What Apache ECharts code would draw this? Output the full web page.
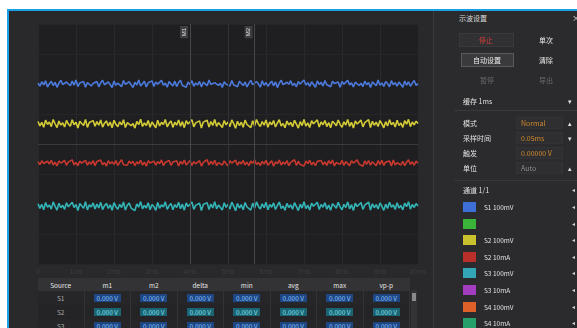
<!DOCTYPE html>
<html>
<head>
<meta charset="utf-8">
<script src="https://cdn.jsdelivr.net/npm/echarts@6/dist/echarts.min.js"></script>
<style>
  html, body { margin: 0; padding: 0; width: 577px; height: 328px; overflow: hidden; background: #ffffff;
    font-family: "Noto Sans CJK SC", "Noto Sans", sans-serif; }
  #frame { position: absolute; left: 7px; top: 9px; width: 570px; height: 319px; box-sizing: border-box;
    background: #29292b; border-left: 2px solid #18a0e8; border-top: 2px solid #18a0e8; }
  #chart { position: absolute; left: 0; top: 0; width: 577px; height: 328px; }
  #panel { position: absolute; left: 433px; top: 11px; width: 144px; height: 317px; background: #2b2b2d;
    border-left: 1px solid #3a3a3c; }
  #panel .t { position: absolute; white-space: nowrap; font-size: 7px; color: #d8d8d8; line-height: 1; transform: translateY(-50%); }
  .btn { position: absolute; box-sizing: border-box; border: 1px solid #3c3c3e; background: #303032; }
  .sep { position: absolute; left: 20px; right: 0; height: 1px; background: #38383a; }
  .sw { position: absolute; width: 13px; height: 10px; }
  #table { position: absolute; left: 38px; top: 278px; width: 372px; }
  #table .row { position: absolute; left: 0; width: 372px; height: 14px; }
  #table .cell { position: absolute; top: 0; width: 46.5px; height: 14px; font-size: 6.5px; color: #d0d0d0;
    display: flex; align-items: center; justify-content: center; border-right: 1px solid #333335; box-sizing: border-box; }
  #table .val { padding: 1px 3px; line-height: 1; }
  #scroll { position: absolute; left: 411px; top: 290px; width: 6px; height: 38px; background: #333335; }
  #scroll div { position: absolute; left: 1px; top: 3px; width: 4px; height: 8px; background: #8a8a8c; }
</style>
</head>
<body>
<div id="frame"></div>
<div id="chart"></div>
<div id="table"></div>
<div id="scroll"><div></div></div>
<div id="panel"></div>
<script>
// Captured channel traces (volts, each channel offset on screen)
const traceS1 = [
  12.08,11.86,12.15,11.94,12.21,11.80,12.02,12.18,11.90,12.11,
  11.78,12.05,12.24,11.97,11.84,12.13,12.00,11.88,12.19,11.93,
  12.26,11.83,12.07,11.96,12.16,11.79,12.10,12.22,11.87,12.03,
  11.92,12.17,11.81,12.09,12.25,11.95,11.85,12.14,12.01,11.77,
  12.20,11.91,12.06,12.12,11.82,12.23,11.98,11.89,12.15,12.04,
  11.76,12.11,11.94,12.27,11.86,12.02,12.18,11.80,12.08,11.95,
  12.21,11.84,12.13,11.99,11.88,12.24,11.92,12.06,11.79,12.16,
  12.03,11.87,12.19,11.83,12.10,12.25,11.90,12.00,11.78,12.14,
  11.96,12.22,11.85,12.07,11.93,12.17,11.81,12.12,12.04,11.89,
  12.26,11.97,11.84,12.09,12.20,11.91,12.05,11.77,12.15,11.99,
  12.11,11.86,12.23,11.94,12.02,11.82,12.18,12.08,11.90,12.13,
  11.80,12.06,12.24,11.95,11.87,12.16,12.01,11.79,12.21,11.92,
  12.10,11.85,12.03,12.19,11.88,12.14,11.76,12.07,12.25,11.96,
  11.83,12.12,11.98,12.22,11.90,12.05,11.81,12.17,12.00,11.89,
  12.27,11.93,12.09,11.84,12.15,12.02,11.78,12.20,11.97,12.11,
  11.86,12.23,11.95,12.06,11.82,12.18,12.04,11.91,12.13,11.79,
  12.16,11.99,11.87,12.24,11.94,12.08,11.80,12.12,12.21,11.90,
  12.05,11.83,12.19,11.96,12.10,11.77,12.14,12.01,11.88,12.26,
  11.92,12.07,11.84,12.17,12.03,11.81,12.22,11.95,12.09,11.86,
  12.13,12.00,11.79,12.20,11.93,12.15,11.85,12.06,12.23,11.91,
  12.02
];
const traceS2 = [
  9.50,9.21,9.44,9.12,9.59,9.30,9.47,9.16,9.63,9.35,
  9.09,9.53,9.26,9.41,9.14,9.57,9.33,9.19,9.61,9.28,
  9.45,9.07,9.52,9.37,9.23,9.64,9.11,9.43,9.31,9.56,
  9.18,9.49,9.25,9.60,9.13,9.39,9.54,9.20,9.46,9.08,
  9.58,9.32,9.15,9.48,9.27,9.62,9.10,9.42,9.55,9.22,
  9.36,9.06,9.51,9.29,9.65,9.17,9.40,9.24,9.57,9.12,
  9.47,9.34,9.08,9.59,9.20,9.44,9.30,9.63,9.15,9.38,
  9.53,9.11,9.45,9.26,9.60,9.19,9.49,9.09,9.56,9.33,
  9.22,9.62,9.14,9.41,9.28,9.54,9.07,9.46,9.35,9.58,
  9.13,9.50,9.24,9.64,9.18,9.43,9.31,9.10,9.57,9.27,
  9.48,9.16,9.61,9.36,9.05,9.52,9.23,9.45,9.12,9.59,
  9.30,9.42,9.09,9.55,9.21,9.63,9.34,9.17,9.50,9.25,
  9.60,9.11,9.46,9.29,9.56,9.14,9.40,9.62,9.20,9.37,
  9.08,9.53,9.27,9.44,9.15,9.58,9.32,9.06,9.49,9.23,
  9.64,9.19,9.41,9.10,9.55,9.35,9.24,9.61,9.13,9.47,
  9.28,9.57,9.16,9.43,9.09,9.52,9.38,9.21,9.60,9.31,
  9.12,9.48,9.26,9.63,9.18,9.45,9.07,9.54,9.33,9.22,
  9.59,9.14,9.42,9.30,9.62,9.10,9.51,9.25,9.46,9.17,
  9.56,9.34,9.08,9.49,9.20,9.61,9.29,9.44,9.13,9.58,
  9.23,9.40,9.11,9.55,9.32,9.64,9.16,9.47,9.27,9.52,
  9.36
];
const traceS2i = [
  6.83,6.62,6.88,6.70,6.57,6.85,6.67,6.92,6.60,6.79,
  6.54,6.87,6.73,6.64,6.90,6.58,6.81,6.69,6.94,6.61,
  6.77,6.55,6.86,6.72,6.63,6.91,6.59,6.80,6.66,6.89,
  6.56,6.84,6.71,6.93,6.61,6.76,6.53,6.88,6.68,6.82,
  6.64,6.90,6.57,6.78,6.95,6.62,6.74,6.58,6.87,6.70,
  6.85,6.55,6.81,6.67,6.92,6.60,6.79,6.52,6.89,6.73,
  6.63,6.86,6.59,6.83,6.69,6.94,6.56,6.77,6.65,6.91,
  6.58,6.80,6.71,6.88,6.54,6.84,6.66,6.93,6.61,6.75,
  6.90,6.57,6.82,6.68,6.62,6.89,6.53,6.78,6.72,6.95,
  6.60,6.85,6.64,6.91,6.56,6.76,6.83,6.59,6.87,6.69,
  6.54,6.88,6.73,6.62,6.92,6.58,6.81,6.67,6.90,6.61,
  6.79,6.55,6.86,6.70,6.94,6.63,6.77,6.57,6.84,6.66,
  6.91,6.59,6.74,6.88,6.52,6.82,6.68,6.93,6.60,6.80,
  6.65,6.89,6.56,6.78,6.71,6.95,6.58,6.85,6.63,6.76,
  6.53,6.87,6.69,6.92,6.61,6.79,6.55,6.84,6.72,6.90,
  6.62,6.81,6.57,6.89,6.67,6.93,6.54,6.77,6.86,6.64,
  6.91,6.58,6.83,6.70,6.56,6.88,6.73,6.60,6.94,6.66,
  6.78,6.52,6.87,6.65,6.90,6.59,6.82,6.71,6.55,6.89,
  6.63,6.92,6.57,6.80,6.68,6.86,6.54,6.93,6.61,6.75,
  6.88,6.60,6.84,6.56,6.79,6.95,6.64,6.81,6.58,6.87,
  6.72
];
const traceS3 = [
  4.02,3.71,3.97,3.62,4.10,3.78,3.93,3.66,4.14,3.84,
  3.59,4.05,3.75,3.91,3.64,4.08,3.81,3.69,4.12,3.77,
  3.96,3.57,4.03,3.87,3.72,4.15,3.61,3.94,3.80,4.07,
  3.67,3.99,3.74,4.11,3.63,3.89,4.04,3.70,3.95,3.58,
  4.09,3.82,3.65,3.98,3.76,4.13,3.60,3.92,4.06,3.73,
  3.86,3.56,4.01,3.79,4.16,3.68,3.90,3.74,4.08,3.62,
  3.97,3.83,3.58,4.10,3.71,3.94,3.80,4.14,3.65,3.88,
  4.04,3.61,3.96,3.76,4.11,3.69,3.99,3.59,4.07,3.83,
  3.72,4.13,3.64,3.91,3.78,4.05,3.57,3.97,3.85,4.09,
  3.63,4.00,3.74,4.15,3.68,3.93,3.81,3.60,4.08,3.77,
  3.98,3.66,4.12,3.86,3.55,4.03,3.73,3.95,3.62,4.10,
  3.80,3.92,3.59,4.06,3.71,4.14,3.84,3.67,4.01,3.75,
  4.11,3.61,3.96,3.79,4.07,3.64,3.90,4.13,3.70,3.87,
  3.58,4.04,3.77,3.94,3.65,4.09,3.82,3.56,3.99,3.73,
  4.15,3.69,3.91,3.60,4.06,3.85,3.74,4.12,3.63,3.97,
  3.78,4.08,3.66,3.93,3.59,4.02,3.88,3.71,4.11,3.81,
  3.62,3.98,3.76,4.14,3.68,3.95,3.57,4.05,3.83,3.72,
  4.10,3.64,3.92,3.80,4.13,3.60,4.01,3.75,3.96,3.67,
  4.07,3.84,3.58,3.99,3.70,4.12,3.79,3.94,3.63,4.09,
  3.73,3.90,3.61,4.06,3.82,4.15,3.66,3.97,3.77,4.03,
  3.86
];
const traceColors = ['#4b79dc', '#d2ca36', '#c8382f', '#33b4b6'];
const xTickLabels = ['0', '1ms', '2ms', '3ms', '4ms', '5ms', '6ms', '7ms', '8ms', '9ms', '10ms'];
const samplesPerDiv = 20;
const cursorIndex = [80, 114];
const cursorNames = ['M1', 'M2'];

// Measurement table
const tableHeaders = ['Source', 'm1', 'm2', 'delta', 'min', 'avg', 'max', 'vp-p'];
const tableSources = ['S1', 'S2', 'S3'];
const tableValue = '0.000 V';
const tableRowBg = ['#1d4682', '#1a6474', '#1d4682'];
const tableRowFg = ['#8cc4ff', '#86e2ee', '#8cc4ff'];

// Channel list in the side panel
const channelNames = ['S1 100mV', '', 'S2 100mV', 'S2 10mA', 'S3 100mV', 'S3 10mA', 'S4 100mV', 'S4 10mA'];
const channelColors = ['#3d6fd6', '#3ab53a', '#c9c22e', '#b9302a', '#33a7b7', '#a43cc0', '#e0602a', '#26a06a'];

const sampleIdx = traceS1.map((_, i) => i);

const chart = echarts.init(document.getElementById('chart'), null, { renderer: 'canvas' });
const traces = [traceS1, traceS2, traceS2i, traceS3];
chart.setOption({
  animation: false,
  backgroundColor: 'transparent',
  grid: { left: 38, top: 24, width: 380, height: 240, show: true, backgroundColor: '#1f1f21', borderWidth: 0 },
  xAxis: {
    type: 'category', data: sampleIdx, boundaryGap: false,
    axisLine: { show: false }, axisTick: { show: false },
    axisLabel: { interval: samplesPerDiv - 1, color: '#3c3c3e', fontSize: 7, margin: 5,
      formatter: (v, i) => xTickLabels[Math.round(i / samplesPerDiv)] },
    splitLine: { show: true, interval: samplesPerDiv - 1, lineStyle: { color: '#29292b', width: 1 } }
  },
  yAxis: {
    type: 'value', min: 0, max: 16, interval: 2,
    axisLine: { show: false }, axisTick: { show: false }, axisLabel: { show: false },
    splitLine: { lineStyle: { color: '#262628', width: 1 } }
  },
  series: traces.map((d, k) => ({
    type: 'line', data: d, showSymbol: false, symbol: 'none',
    lineStyle: { color: traceColors[k], width: 1.6 },
    z: 3,
    markLine: k === 0 ? {
      silent: true, symbol: 'none',
      data: [
        { yAxis: 8, lineStyle: { color: '#3b3b3e', type: 'solid', width: 1 }, label: { show: false } },
        { xAxis: 100, lineStyle: { color: '#333336', type: 'solid', width: 1 }, label: { show: false } },
        ...cursorIndex.map((ix, j) => ({
          xAxis: ix,
          lineStyle: { color: '#48484b', type: 'solid', width: 1 },
          label: { show: true, formatter: cursorNames[j], position: 'insideEndTop', distance: 2,
            color: '#e0e0e0', fontSize: 6, backgroundColor: '#3e3e40', padding: [1, 2] }
        }))
      ]
    } : undefined
  }))
});

// Measurement table
const table = document.getElementById('table');
const head = document.createElement('div');
head.className = 'row';
head.style.top = '0px';
head.style.background = '#333335';
tableHeaders.forEach((h, c) => {
  const cell = document.createElement('div');
  cell.className = 'cell';
  cell.style.left = (c * 46.5) + 'px';
  cell.style.color = '#e6e6e6';
  cell.textContent = h;
  head.appendChild(cell);
});
table.appendChild(head);
tableSources.forEach((s, r) => {
  const row = document.createElement('div');
  row.className = 'row';
  row.style.top = (13 + r * 14) + 'px';
  row.style.background = r % 2 ? '#242426' : '#262628';
  tableHeaders.forEach((h, c) => {
    const cell = document.createElement('div');
    cell.className = 'cell';
    cell.style.left = (c * 46.5) + 'px';
    if (c === 0) {
      cell.textContent = s;
      cell.style.color = '#a8a8a8';
    } else {
      const v = document.createElement('span');
      v.className = 'val';
      v.textContent = tableValue;
      v.style.background = tableRowBg[r];
      v.style.color = tableRowFg[r];
      cell.appendChild(v);
    }
    row.appendChild(cell);
  });
  table.appendChild(row);
});

// Side panel
const panel = document.getElementById('panel');
function txt(s, x, y, color, size) {
  const e = document.createElement('div');
  e.className = 't';
  e.textContent = s;
  e.style.left = x + 'px';
  e.style.top = y + 'px';
  if (color) e.style.color = color;
  if (size) e.style.fontSize = size + 'px';
  panel.appendChild(e);
  return e;
}
function box(x, y, w, h, border, bg) {
  const e = document.createElement('div');
  e.className = 'btn';
  e.style.left = x + 'px'; e.style.top = y + 'px';
  e.style.width = w + 'px'; e.style.height = h + 'px';
  if (border) e.style.borderColor = border;
  if (bg) e.style.background = bg;
  panel.appendChild(e);
}
function sep(y) {
  const e = document.createElement('div');
  e.className = 'sep';
  e.style.top = y + 'px';
  panel.appendChild(e);
}
const px = 433, py = 11;
txt('示波设置', 458 - px, 18 - py);
txt('×', 571 - px, 18 - py, '#e0e0e0', 8);
box(458 - px, 33 - py, 55, 14, '#3a3a3c', '#313133');
txt('停止', 478 - px, 40 - py, '#d8423c');
txt('单次', 538 - px, 40 - py, '#e8e8e8');
box(460 - px, 53 - py, 53, 14, '#5a5a5c', '#3a3a3c');
txt('自动设置', 472 - px, 60 - py, '#eeeeee');
txt('清除', 538 - px, 60 - py, '#e8e8e8');
txt('暂停', 479 - px, 80 - py, '#6a6a6c');
txt('导出', 538 - px, 80 - py, '#6a6a6c');
txt('缓存 1ms', 462 - px, 101 - py, '#e0e0e0');
txt('▾', 567 - px, 101 - py, '#e0e0e0', 7);
sep(110 - py);
const settingLabels = ['模式', '采样时间', '触发', '单位'];
const settingValues = ['Normal', '0.05ms', '0.00000 V', 'Auto'];
const settingColors = ['#d38a2c', '#d38a2c', '#d38a2c', '#8a8a8c'];
const settingMarks = ['▴', '▾', '', '▴'];
settingLabels.forEach((l, i) => {
  const y = 123 + i * 15;
  txt(l, 462 - px, y - py, '#e0e0e0');
  box(515 - px, y - 6 - py, 47, 12, '#333335', '#2f2f31');
  txt(settingValues[i], 520 - px, y - py, settingColors[i]);
  if (settingMarks[i]) txt(settingMarks[i], 567 - px, y - py, '#e0e0e0', 7);
});
sep(180 - py);
txt('通道 1/1', 462 - px, 190 - py, '#e0e0e0');
txt('◂', 571 - px, 190 - py, '#d0d0d0', 6);
channelNames.forEach((n, i) => {
  const y = 207 + i * 16.6;
  const s = document.createElement('div');
  s.className = 'sw';
  s.style.left = (462 - px) + 'px';
  s.style.top = (y - 5 - py) + 'px';
  s.style.background = channelColors[i];
  panel.appendChild(s);
  if (n) txt(n, 483 - px, y - py, '#e0e0e0', 6.5);
  txt('◂', 571 - px, y - py, '#d0d0d0', 6);
});
</script>
</body>
</html>
